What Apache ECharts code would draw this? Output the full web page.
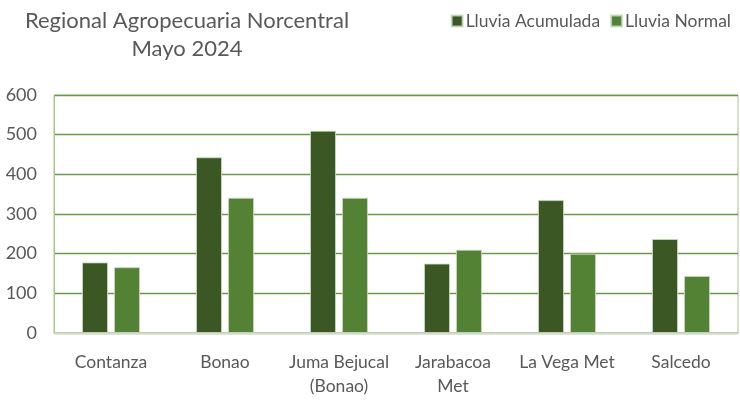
<!DOCTYPE html>
<html>
<head>
<meta charset="utf-8">
<script src="https://cdn.jsdelivr.net/npm/echarts@6/dist/echarts.min.js"></script>
<style>html,body{margin:0;padding:0;background:#fff;}#c{width:740px;height:402px;}</style>
</head>
<body>
<div id="c"></div>
<script>
const categories = ['Contanza', 'Bonao', 'Juma Bejucal\n(Bonao)', 'Jarabacoa\nMet', 'La Vega Met', 'Salcedo'];
const lluviaAcumulada = [178, 443, 510, 175, 335, 237];
const lluviaNormal = [166, 341, 341, 210, 200, 144];
const yTicks = [0, 100, 200, 300, 400, 500, 600];

const chart = echarts.init(document.getElementById('c'), null, {renderer: 'canvas'});
const font = 'Lato, "Open Sans", sans-serif';
chart.setOption({
  animation: false,
  backgroundColor: '#fff',
  title: {
    text: 'Regional Agropecuaria Norcentral\nMayo 2024',
    left: 182, top: 2, textAlign: 'center',
    textStyle: {fontFamily: font, fontSize: 22, fontWeight: 'normal', color: '#595959', lineHeight: 28}
  },
  legend: {
    top: 7, right: 4, itemWidth: 11, itemHeight: 11, itemGap: 10,
    icon: 'rect',
    textStyle: {fontFamily: font, fontSize: 17.5, color: '#595959', padding: [0,0,0,-2]},
    data: ['Lluvia Acumulada', 'Lluvia Normal']
  },
  grid: {left: 54, right: 2, top: 95, bottom: 69, show: true, borderColor: '#a9c48f', borderWidth: 1},
  xAxis: {
    type: 'category', data: categories,
    axisLine: {lineStyle: {color: '#d9d9d9', width: 1}},
    axisTick: {show: false},
    axisLabel: {interval: 0, fontFamily: font, fontSize: 17.5, color: '#595959', margin: 17, lineHeight: 24}
  },
  yAxis: {
    type: 'value', min: yTicks[0], max: yTicks[yTicks.length-1], interval: 100,
    axisLine: {show: true, lineStyle: {color: '#a9c48f'}},
    axisTick: {show: false},
    axisLabel: {fontFamily: font, fontSize: 18, color: '#595959', margin: 17},
    splitLine: {lineStyle: {color: '#6b9a48', width: 1.3}}
  },
  series: [
    {name: 'Lluvia Acumulada', type: 'bar', data: lluviaAcumulada, barWidth: 26, barGap: '23%',
     itemStyle: {color: '#3b5723', borderColor: 'rgba(200,220,190,0.8)', borderWidth: 1}},
    {name: 'Lluvia Normal', type: 'bar', data: lluviaNormal, barWidth: 26,
     itemStyle: {color: '#548235', borderColor: 'rgba(200,220,190,0.8)', borderWidth: 1}}
  ]
});
</script>
</body>
</html>
